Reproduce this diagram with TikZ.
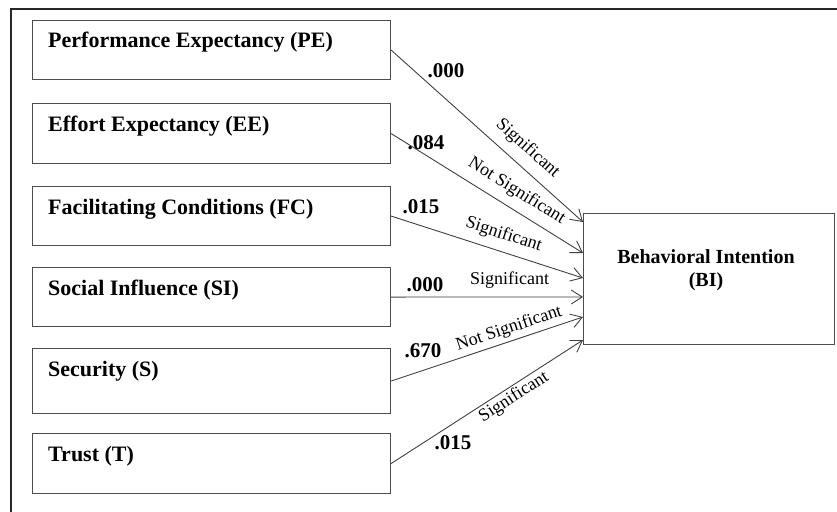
\documentclass[tikz,border=0pt]{standalone}
\usepackage{fontspec}
\setmainfont{Liberation Serif}
\usetikzlibrary{arrows.meta,calc}
\begin{document}
\begin{tikzpicture}[x=1pt,y=-1pt,
  box/.style={draw=black!70, line width=1.1pt, rectangle, inner sep=0pt, anchor=north west, minimum width=358pt},
  boxtext/.style={anchor=base west, inner sep=0pt, font=\fontsize{22}{26}\selectfont\bfseries},
  num/.style={inner sep=0pt, font=\fontsize{21}{25}\selectfont\bfseries},
  sig/.style={font=\fontsize{18}{21}\selectfont, sloped, inner xsep=0pt},
  conn/.style={draw=black!75, line width=0.9pt, -{Straight Barb[length=11pt,width=14pt]}}
]
\useasboundingbox (0,0) rectangle (837,511);
\clip (0,0) rectangle (837,511);
\draw[line width=2pt, black!85] (10.5,530) -- (10.5,9.5) -- (850,9.5);

\node[box, minimum height=59pt] (pe) at (32,20) {};
\node[box, minimum height=60pt] (ee) at (32,103) {};
\node[box, minimum height=59pt] (fc) at (32,186) {};
\node[box, minimum height=59pt] (si) at (32,267) {};
\node[box, minimum height=65pt] (s)  at (32,348) {};
\node[box, minimum height=60pt] (t)  at (32,433) {};
\node[box, minimum width=251pt, minimum height=131pt] (bi) at (583,213) {};

\node[boxtext] (pel) at ([shift={(16pt,-28pt)}]pe.north west) {Performance Expectancy (PE)};
\node[boxtext] (eel) at ([shift={(16pt,-28pt)}]ee.north west) {Effort Expectancy (EE)};
\node[boxtext] (fcl) at ([shift={(16pt,-28pt)}]fc.north west) {Facilitating Conditions (FC)};
\node[boxtext] (sil) at ([shift={(16pt,-28pt)}]si.north west) {Social Influence (SI)};
\node[boxtext] (sl)  at ([shift={(16pt,-28pt)}]s.north west) {Security (S)};
\node[boxtext] (tl)  at ([shift={(16pt,-28pt)}]t.north west) {Trust (T)};
\node[align=center, inner sep=0pt, font=\fontsize{20}{23}\selectfont\bfseries] (bil) at (706,270) {Behavioral Intention\\(BI)};

\coordinate (t1) at (583,222);
\coordinate (t2) at (583,253);
\coordinate (t3) at (583,278);
\coordinate (t4) at (583,297);
\coordinate (t5) at (583,317);
\coordinate (t6) at (583,340);

\draw[conn] (pe.east) -- node[sig, pos=0.65, anchor=south, inner ysep=9pt] (l1) {Significant} (t1);
\draw[conn] (ee.east) -- node[sig, pos=0.607, anchor=south, inner ysep=8.5pt] (l2) {Not Significant} (t2);
\draw[conn] (fc.east) -- node[sig, pos=0.56, anchor=south, inner ysep=8pt] (l3) {Significant} (t3);
\draw[conn] (si.east) -- node[sig, pos=0.617, anchor=south, inner ysep=8pt] (l4) {Significant} (t4);
\draw[conn] (s.east) -- node[sig, pos=0.635, anchor=south, inner ysep=3.5pt] (l5) {Not Significant} (t5);
\draw[conn] (t.east) -- node[sig, pos=0.61, anchor=north, inner ysep=2pt] (l6) {Significant} (t6);

\node[num] (n1) at (446,71) {.000};
\node[num] (n2) at (426,143) {.084};
\node[num] (n3) at (421,207) {.015};
\node[num] (n4) at (425,285) {.000};
\node[num] (n5) at (423,351) {.670};
\node[num] (n6) at (453,443) {.015};
\end{tikzpicture}
\end{document}
